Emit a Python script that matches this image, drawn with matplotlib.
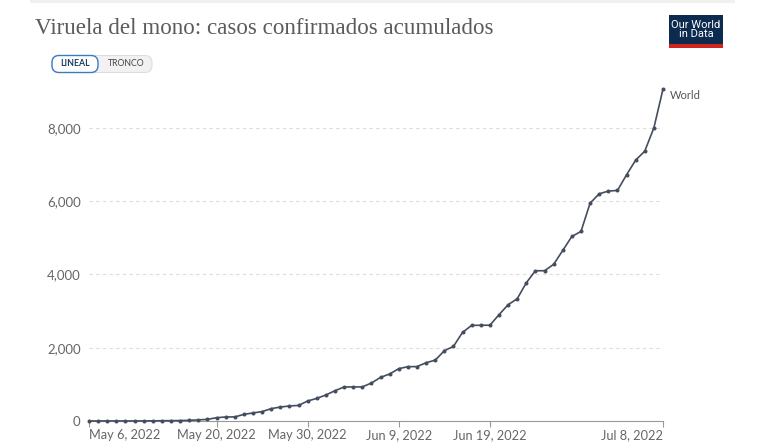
import matplotlib
matplotlib.use("Agg")
import matplotlib.pyplot as plt
import pandas as pd
from matplotlib.patches import FancyBboxPatch, Rectangle

# ---- data ----
start_date = "2022-05-06"
cases = [1, 1, 1, 1, 1, 2, 2, 5, 7, 9, 12, 19, 30, 45, 90, 110, 112, 180, 220, 257,
         338, 380, 410, 426, 546, 617, 710, 827, 928, 930, 930, 1037, 1190, 1283, 1428,
         1482, 1485, 1590, 1660, 1918, 2036, 2418, 2609, 2612, 2614, 2900, 3173, 3336,
         3773, 4100, 4100, 4275, 4655, 5036, 5173, 5945, 6200, 6273, 6291, 6718, 7118,
         7364, 8000, 9055]
tick_dates = ["2022-05-06", "2022-05-20", "2022-05-30", "2022-06-09", "2022-06-19", "2022-07-08"]
tick_labels = ["May 6, 2022", "May 20, 2022", "May 30, 2022", "Jun 9, 2022", "Jun 19, 2022", "Jul 8, 2022"]
y_ticks = [0, 2000, 4000, 6000, 8000]
y_labels = ["0", "2,000", "4,000", "6,000", "8,000"]
title = "Viruela del mono: casos confirmados acumulados"
series_name = "World"
buttons = ["LINEAL", "TRONCO"]
logo_text = "Our World\nin Data"

plt.rcParams['font.family'] = ['Lato', 'DejaVu Sans']

dates = pd.date_range(start_date, periods=len(cases), freq="D")

W, H = 780, 447
fig = plt.figure(figsize=(W / 100, H / 100), dpi=100)
fig.patch.set_facecolor("white")

ax = fig.add_axes([89 / W, 1 - 421 / H, (663 - 89) / W, (421 - 87.5) / H])
ax.plot(dates, cases, color="#454e5e", lw=1.2, marker="o", ms=1.9,
        clip_on=False, zorder=3)
ax.set_xlim(dates[0], dates[-1])
ax.set_ylim(0, 9100)

ax.set_yticks(y_ticks)
ax.set_yticklabels(y_labels)
ax.set_xticks(pd.to_datetime(tick_dates))
ax.set_xticklabels(tick_labels)
for i, lab in enumerate(ax.get_xticklabels()):
    if i == 0:
        lab.set_ha("left")
    elif i == len(tick_labels) - 1:
        lab.set_ha("right")
    else:
        lab.set_ha("center")

ax.tick_params(axis="y", length=0, pad=6, labelsize=9.5, labelcolor="#666666")
ax.tick_params(axis="x", length=4, width=0.8, color="#999999", pad=2,
               labelsize=9.2, labelcolor="#666666", direction="out")
for s in ["top", "right", "left"]:
    ax.spines[s].set_visible(False)
ax.spines["bottom"].set_color("#999999")
ax.spines["bottom"].set_linewidth(0.8)
ax.yaxis.grid(True, linestyle=(0, (3, 3)), color="#dddddd", lw=0.8)
ax.set_axisbelow(True)

ax.annotate(series_name, xy=(dates[-1], cases[-1]), xytext=(5, -4.5),
            textcoords="offset points", fontsize=8, color="#555555",
            ha="left", va="center", annotation_clip=False)

# ---- overlay for header decorations (pixel coordinates) ----
ov = fig.add_axes([0, 0, 1, 1], zorder=5)
ov.set_xlim(0, W)
ov.set_ylim(H, 0)
ov.axis("off")
ov.patch.set_alpha(0)

ov.add_patch(Rectangle((30, 0), 705, 3, fc="#f0f0f0", ec="none"))

ov.text(35, 28, title, fontsize=16.6, color="#5b5b5b", ha="left", va="center",
        family=["Liberation Serif", "DejaVu Serif"])

ov.add_patch(FancyBboxPatch((52, 55.5), 100, 17, boxstyle="round,pad=0,rounding_size=7",
                            fc="#f2f2f2", ec="#dddddd", lw=0.8))
ov.add_patch(FancyBboxPatch((52, 55.5), 46, 17, boxstyle="round,pad=0,rounding_size=7",
                            fc="white", ec="#3b7bbf", lw=1.0))
ov.text(75, 64, buttons[0], fontsize=6.3, color="#1d3d63", ha="center", va="center",
        fontweight="bold")
ov.text(126, 64, buttons[1], fontsize=6.3, color="#444444", ha="center", va="center")

ov.add_patch(Rectangle((669, 15), 54, 29, fc="#0d2a4f", ec="none"))
ov.add_patch(Rectangle((669, 44), 54, 3.5, fc="#ce261e", ec="none"))
ov.text(696, 29.5, logo_text, fontsize=8, color="white", ha="center", va="center",
        linespacing=0.95, family=["Roboto", "DejaVu Sans"])

fig.savefig("out.png", dpi=100)
